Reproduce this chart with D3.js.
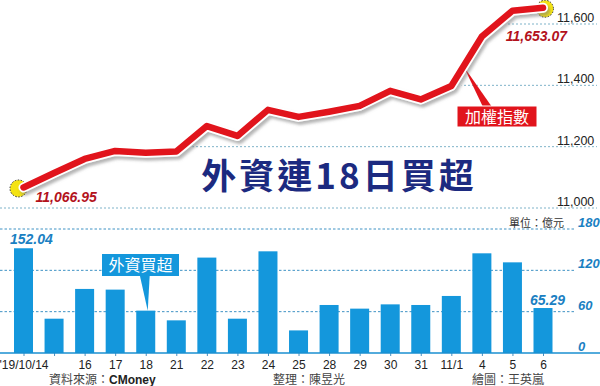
<!DOCTYPE html>
<html>
<head>
<meta charset="utf-8">
<script src="https://cdn.jsdelivr.net/npm/d3@7"></script>
<style>
    body { margin: 0; background: #fff; }
    svg { display: block; }
</style>
</head>
<body>
<script>
// dates on the x axis (blank = no label shown)
var dates = ["'19/10/14", "15", "16", "17", "18", "21", "22", "23", "24", "25", "28", "29", "30", "31", "11/1", "4", "5", "6"];
var tickLabels = ["'19/10/14", "", "16", "17", "18", "21", "22", "23", "24", "25", "28", "29", "30", "31", "11/1", "4", "5", "6"];
// 加權指數
var indexValues = [11066.95, 11114, 11160, 11186, 11180, 11184, 11267, 11235, 11320, 11297, 11314, 11333, 11382, 11354, 11398, 11559, 11643, 11653.07];
// 外資買超 (億元)
var netBuy = [152.04, 49.8, 93, 92, 61.5, 47.4, 138.5, 49.8, 147.6, 32.8, 69.7, 64.4, 70.6, 69.7, 82.8, 144.7, 131.6, 65.29];
var indexTicks = [11000, 11200, 11400, 11600];
var barTicks = [0, 60, 120, 180];

var width = 600, height = 386;
var red = "#e1141c", blue = "#1497dc", navy = "#1c2a80";
var numFont = "'Liberation Sans', Arial, sans-serif";
var cjkFont = "'Noto Sans CJK TC', 'Noto Sans', sans-serif";

var svg = d3.select("body").append("svg")
    .attr("width", width)
    .attr("height", height);

var defs = svg.append("defs");
var shadow = defs.append("filter").attr("id", "shadow")
    .attr("x", "-10%").attr("y", "-10%").attr("width", "120%").attr("height", "130%");
shadow.append("feDropShadow")
    .attr("dx", 2).attr("dy", 3).attr("stdDeviation", 1.5)
    .attr("flood-color", "#777").attr("flood-opacity", 0.55);

var x = d3.scalePoint()
    .domain(dates)
    .range([23.5, 543]);

var y = d3.scaleLinear()
    .domain([11000, 11600])
    .range([208, 24]);

var yb = d3.scaleLinear()
    .domain([0, 180])
    .range([353, 229]);

var linePts = dates.map(function(d, i) { return [x(d), y(indexValues[i])]; });

// index gridlines only show below/right of the red line
var clipPts = [[0, linePts[0][1]]]
    .concat(linePts.map(function(p) { return [p[0] + 10, p[1]]; }))
    .concat([[width, linePts[linePts.length - 1][1]], [width, height], [0, height]]);
defs.append("clipPath").attr("id", "belowLine")
    .append("polygon")
    .attr("points", clipPts.map(function(p) { return p.join(","); }).join(" "));

svg.append("g")
    .attr("clip-path", "url(#belowLine)")
    .selectAll("line")
    .data(indexTicks)
    .enter().append("line")
    .attr("x1", 0).attr("x2", 597)
    .attr("y1", function(d) { return y(d); })
    .attr("y2", function(d) { return y(d); })
    .attr("stroke", "#7fb3c9")
    .attr("stroke-width", 1)
    .attr("stroke-dasharray", "2,2");

svg.append("g").selectAll("text")
    .data(indexTicks)
    .enter().append("text")
    .attr("x", 557)
    .attr("y", function(d) { return y(d) - 2; })
    .attr("font-family", numFont)
    .attr("font-size", 12.5)
    .attr("fill", "#222")
    .text(function(d) { return d3.format(",")(d); });

// title
svg.append("text")
    .attr("x", 339)
    .attr("y", 189)
    .attr("text-anchor", "middle")
    .attr("font-family", cjkFont)
    .attr("font-weight", 700)
    .attr("font-size", 35)
    .attr("letter-spacing", 3)
    .attr("fill", navy)
    .text("外資連18日買超");

// bar chart grid
svg.append("g").selectAll("line")
    .data(barTicks.slice(1))
    .enter().append("line")
    .attr("x1", 0).attr("x2", 575)
    .attr("y1", function(d) { return yb(d); })
    .attr("y2", function(d) { return yb(d); })
    .attr("stroke", "#3f92c4")
    .attr("stroke-width", 1)
    .attr("stroke-dasharray", "2.5,2");

svg.append("g").selectAll("text")
    .data(barTicks)
    .enter().append("text")
    .attr("x", 578)
    .attr("y", function(d) { return yb(d) - 2; })
    .attr("font-family", numFont)
    .attr("font-size", 13)
    .attr("font-weight", 700)
    .attr("font-style", "italic")
    .attr("fill", "#1a80c2")
    .text(function(d) { return d; });

svg.append("text")
    .attr("x", 509)
    .attr("y", yb(180) - 2)
    .attr("font-family", cjkFont)
    .attr("font-size", 11)
    .attr("fill", "#333")
    .text("單位：億元");

// bars
svg.append("g").selectAll("rect")
    .data(netBuy)
    .enter().append("rect")
    .attr("x", function(d, i) { return x(dates[i]) - 9.5; })
    .attr("y", function(d) { return yb(d); })
    .attr("width", 19)
    .attr("height", function(d) { return yb(0) - yb(d); })
    .attr("fill", blue);

// x axis
var xAxis = d3.axisBottom(x)
    .tickSize(3)
    .tickPadding(4)
    .tickFormat(function(d, i) { return tickLabels[i]; });

var xg = svg.append("g")
    .attr("transform", "translate(0," + yb(0) + ")")
    .call(xAxis);
xg.select(".domain").remove();
xg.selectAll(".tick line").attr("stroke", "#4a8fbf");
xg.selectAll(".tick text")
    .attr("font-family", numFont)
    .attr("font-size", 12)
    .attr("fill", "#222");

svg.append("line")
    .attr("x1", 0).attr("x2", width)
    .attr("y1", yb(0)).attr("y2", yb(0))
    .attr("stroke", "#1a8fd0")
    .attr("stroke-width", 1.5);

// 外資買超 callout
var calloutBar = 4;
var cbx = x(dates[calloutBar]), cby = yb(netBuy[calloutBar]);
svg.append("polygon")
    .attr("points", [[cbx - 6, 275], [cbx + 4, 275], [cbx + 2, cby]].map(function(p) { return p.join(","); }).join(" "))
    .attr("fill", blue);
svg.append("rect")
    .attr("x", 102).attr("y", 254)
    .attr("width", 77).attr("height", 22)
    .attr("fill", blue);
svg.append("text")
    .attr("x", 140.5).attr("y", 271)
    .attr("text-anchor", "middle")
    .attr("font-family", cjkFont)
    .attr("font-size", 16)
    .attr("fill", "#fff")
    .text("外資買超");

// value labels on bars
svg.append("text")
    .attr("x", 10).attr("y", yb(netBuy[0]) - 4)
    .attr("font-family", numFont)
    .attr("font-size", 14)
    .attr("font-weight", 700)
    .attr("font-style", "italic")
    .attr("fill", "#1a80c2")
    .text(d3.format(".2f")(netBuy[0]));

svg.append("text")
    .attr("x", x(dates[dates.length - 1]) + 22)
    .attr("y", yb(netBuy[netBuy.length - 1]) - 3)
    .attr("text-anchor", "end")
    .attr("font-family", numFont)
    .attr("font-size", 14)
    .attr("font-weight", 700)
    .attr("font-style", "italic")
    .attr("fill", "#1a80c2")
    .text(d3.format(".2f")(netBuy[netBuy.length - 1]));

// 加權指數 callout pointer
var pa = linePts[14], pb = linePts[15];
var tip = [pa[0] + (pb[0] - pa[0]) * 0.4, pa[1] + (pb[1] - pa[1]) * 0.4];
svg.append("polygon")
    .attr("points", [[tip[0], tip[1]], [483, 107], [492, 107]].map(function(p) { return p.join(","); }).join(" "))
    .attr("fill", red);

// end circles
var first = linePts[0], last = linePts[linePts.length - 1];
svg.selectAll("circle.end")
    .data([[first[0] - 5, first[1] + 1], [last[0] + 2, last[1] + 1]])
    .enter().append("circle")
    .attr("class", "end")
    .attr("cx", function(d) { return d[0]; })
    .attr("cy", function(d) { return d[1]; })
    .attr("r", 8.5)
    .attr("fill", "#f4e312")
    .attr("stroke", "#333")
    .attr("stroke-width", 1)
    .attr("stroke-dasharray", "1.5,1.5");

// index line
var line = d3.line();
svg.append("path")
    .attr("d", line(linePts))
    .attr("fill", "none")
    .attr("stroke", "#fff")
    .attr("stroke-width", 10)
    .attr("stroke-linejoin", "round")
    .attr("stroke-linecap", "round")
    .attr("filter", "url(#shadow)");
svg.append("path")
    .attr("d", line(linePts))
    .attr("fill", "none")
    .attr("stroke", red)
    .attr("stroke-width", 6.5)
    .attr("stroke-linejoin", "round")
    .attr("stroke-linecap", "round");

// 加權指數 box
svg.append("rect")
    .attr("x", 457).attr("y", 106)
    .attr("width", 80).attr("height", 21)
    .attr("fill", red)
    .attr("stroke", "#fff")
    .attr("stroke-width", 1);
svg.append("text")
    .attr("x", 497).attr("y", 122.5)
    .attr("text-anchor", "middle")
    .attr("font-family", cjkFont)
    .attr("font-size", 16)
    .attr("fill", "#fff")
    .text("加權指數");

// index value labels
svg.append("text")
    .attr("x", first[0] + 12).attr("y", first[1] + 15)
    .attr("font-family", numFont)
    .attr("font-size", 14)
    .attr("font-weight", 700)
    .attr("font-style", "italic")
    .attr("fill", "#b3121c")
    .text(d3.format(",.2f")(indexValues[0]));

svg.append("text")
    .attr("x", last[0] + 24).attr("y", last[1] + 33)
    .attr("text-anchor", "end")
    .attr("font-family", numFont)
    .attr("font-size", 14)
    .attr("font-weight", 700)
    .attr("font-style", "italic")
    .attr("fill", "#b3121c")
    .text(d3.format(",.2f")(indexValues[indexValues.length - 1]));

// footer
var credits = [
    {x: 49, label: "資料來源：", name: "CMoney"},
    {x: 273, label: "整理：", name: "陳昱光"},
    {x: 472, label: "繪圖：", name: "王英嵐"}
];
var ft = svg.append("g").selectAll("text")
    .data(credits)
    .enter().append("text")
    .attr("x", function(d) { return d.x; })
    .attr("y", 384)
    .attr("font-family", cjkFont)
    .attr("font-size", 12)
    .attr("fill", "#444");
ft.append("tspan").text(function(d) { return d.label; });
ft.append("tspan")
    .attr("font-family", function(d) { return d.name === "CMoney" ? numFont : cjkFont; })
    .attr("font-weight", function(d) { return d.name === "CMoney" ? 700 : 400; })
    .attr("fill", function(d) { return d.name === "CMoney" ? "#222" : "#444"; })
    .text(function(d) { return d.name; });
</script>
</body>
</html>
